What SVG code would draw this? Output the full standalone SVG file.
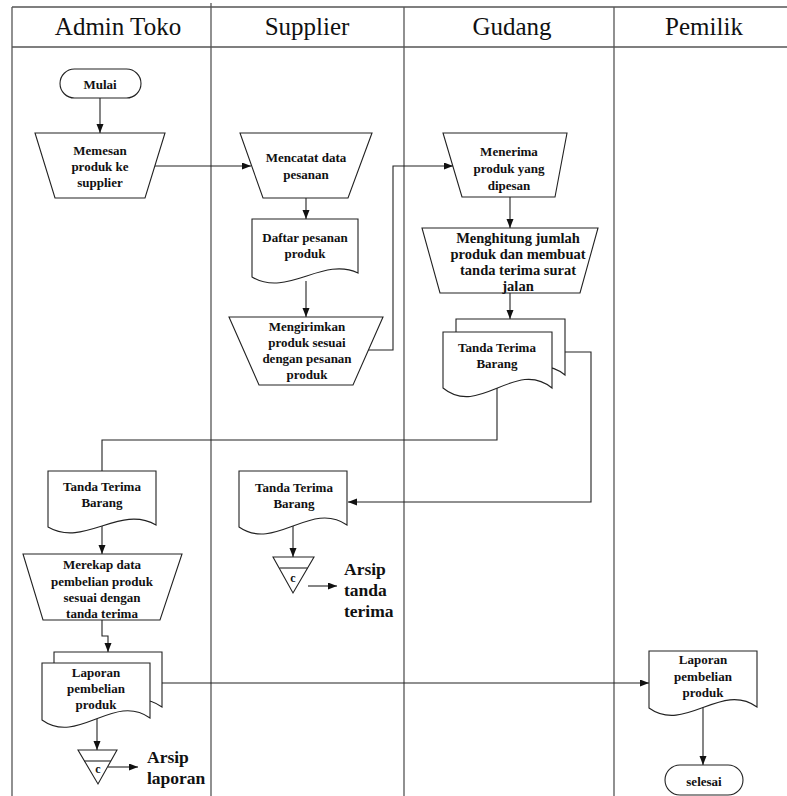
<svg xmlns="http://www.w3.org/2000/svg" width="787" height="796" viewBox="0 0 787 796">
<style>
.frame{stroke:#555;stroke-width:1.3;fill:none}
.shape{fill:#fff;stroke:#222;stroke-width:1.1}
.conn{fill:none;stroke:#222;stroke-width:1.1}
.hdr{font-family:"Liberation Serif",serif;font-size:25px;fill:#111;text-anchor:middle}
.t{font-family:"Liberation Serif",serif;font-size:13px;font-weight:bold;fill:#111;text-anchor:middle}
.tb{font-family:"Liberation Serif",serif;font-size:14.5px;font-weight:bold;fill:#111;text-anchor:middle}
.ar{font-family:"Liberation Serif",serif;font-size:17.5px;font-weight:bold;fill:#111}
</style>
<defs>
<marker id="ah" markerUnits="userSpaceOnUse" markerWidth="10" markerHeight="8" refX="9" refY="3.5" orient="auto">
<path d="M0,0 L9,3.5 L0,7 z" fill="#111"/>
</marker>
</defs>
<g id="lanes">
<line class="frame" x1="12" y1="7" x2="787" y2="7"/>
<line class="frame" x1="12" y1="47" x2="787" y2="47"/>
<line class="frame" x1="12" y1="7" x2="12" y2="796"/>
<line class="frame" x1="211" y1="3" x2="211" y2="796"/>
<line class="frame" x1="404" y1="7" x2="404" y2="796"/>
<line class="frame" x1="614" y1="7" x2="614" y2="796"/>
<text class="hdr" x="118" y="35">Admin Toko</text>
<text class="hdr" x="307" y="35">Supplier</text>
<text class="hdr" x="512" y="35">Gudang</text>
<text class="hdr" x="704" y="35">Pemilik</text>
</g>
<g id="connectors">
<path class="conn" d="M100,98 V133" marker-end="url(#ah)"/>
<path class="conn" d="M155,166 H251" marker-end="url(#ah)"/>
<path class="conn" d="M306,198 V219" marker-end="url(#ah)"/>
<path class="conn" d="M306,281 V317" marker-end="url(#ah)"/>
<path class="conn" d="M368,350 H393 V166 H453" marker-end="url(#ah)"/>
<path class="conn" d="M510,197 V228" marker-end="url(#ah)"/>
<path class="conn" d="M510,293 V319" marker-end="url(#ah)"/>
<path class="conn" d="M565,352 H591 V502 H348" marker-end="url(#ah)"/>
<path class="conn" d="M497,388 V440 H102 V471"/>
<path class="conn" d="M293,526 V557" marker-end="url(#ah)"/>
<path class="conn" d="M308,586 H337" marker-end="url(#ah)"/>
<path class="conn" d="M102,526 V554" marker-end="url(#ah)"/>
<path class="conn" d="M102,620 V636 H108 V652" marker-end="url(#ah)"/>
<path class="conn" d="M162,683 H649" marker-end="url(#ah)"/>
<path class="conn" d="M97,719 V750" marker-end="url(#ah)"/>
<path class="conn" d="M108,767 H138" marker-end="url(#ah)"/>
<path class="conn" d="M703,707 V765" marker-end="url(#ah)"/>
</g>
<g id="mulai">
<rect class="shape" x="60" y="69" width="81" height="29" rx="14.5"/>
<text class="t" x="100" y="89">Mulai</text>
</g>
<g id="memesan">
<polygon class="shape" points="35,133 165,133 145,198 55,198"/>
<text class="t" x="100" y="155">Memesan</text>
<text class="t" x="100" y="171">produk ke</text>
<text class="t" x="100" y="187">supplier</text>
</g>
<g id="mencatat">
<polygon class="shape" points="240,133 372,133 348,198 263,198"/>
<text class="t" x="306" y="162">Mencatat data</text>
<text class="t" x="306" y="179">pesanan</text>
</g>
<g id="daftar">
<path class="shape" d="M252,219 H358 V273 C322.7,256 287.3,298 252,277 Z"/>
<text class="t" x="305" y="242">Daftar pesanan</text>
<text class="t" x="305" y="258">produk</text>
</g>
<g id="mengirimkan">
<polygon class="shape" points="229,317 383,317 353,385 259,385"/>
<text class="t" x="307" y="331">Mengirimkan</text>
<text class="t" x="307" y="347">produk sesuai</text>
<text class="t" x="307" y="363">dengan pesanan</text>
<text class="t" x="307" y="379">produk</text>
</g>
<g id="menerima">
<polygon class="shape" points="443,133 567,133 555,197 462,197"/>
<text class="t" x="509" y="156">Menerima</text>
<text class="t" x="509" y="173">produk yang</text>
<text class="t" x="509" y="190">dipesan</text>
</g>
<g id="menghitung">
<polygon class="shape" points="422,228 598,228 580,293 440,293"/>
<text class="tb" x="518" y="243">Menghitung jumlah</text>
<text class="tb" x="518" y="259">produk dan membuat</text>
<text class="tb" x="518" y="275">tanda terima surat</text>
<text class="tb" x="518" y="291">jalan</text>
</g>
<g id="ttb-gudang">
<path class="shape" d="M456,319 H565 V375 C528.7,345 492.3,405 456,375 Z"/>
<path class="shape" d="M443,332 H552 V388 C515.7,358 479.3,418 443,388 Z"/>
<text class="t" x="497" y="352">Tanda Terima</text>
<text class="t" x="497" y="368">Barang</text>
</g>
<g id="ttb-admin">
<path class="shape" d="M48,471 H156 V525 C120,504 84,548 48,527 Z"/>
<text class="t" x="102" y="491">Tanda Terima</text>
<text class="t" x="102" y="507">Barang</text>
</g>
<g id="ttb-supplier">
<path class="shape" d="M239,471 H347 V525 C311,500 275,552 239,527 Z"/>
<text class="t" x="294" y="492">Tanda Terima</text>
<text class="t" x="294" y="508">Barang</text>
</g>
<g id="arsip-tanda">
<polygon class="shape" points="273,557 314,557 293,593"/>
<line class="conn" x1="279.5" y1="568" x2="307.5" y2="568"/>
<text class="t" x="293" y="582" style="font-size:12px">c</text>
<text class="ar" x="344" y="575">Arsip</text>
<text class="ar" x="344" y="596">tanda</text>
<text class="ar" x="344" y="617">terima</text>
</g>
<g id="merekap">
<polygon class="shape" points="23,554 182,554 160,620 43,620"/>
<text class="t" x="102" y="569">Merekap data</text>
<text class="t" x="102" y="585.5">pembelian produk</text>
<text class="t" x="102" y="602">sesuai dengan</text>
<text class="t" x="102" y="618">tanda terima</text>
</g>
<g id="laporan-admin">
<path class="shape" d="M54,652 H162 V707 C126,681 90,735 54,709 Z"/>
<path class="shape" d="M42,663 H150 V718 C114,692 78,746 42,720 Z"/>
<text class="t" x="96" y="677">Laporan</text>
<text class="t" x="96" y="693">pembelian</text>
<text class="t" x="96" y="709">produk</text>
</g>
<g id="arsip-laporan">
<polygon class="shape" points="78,750 117,750 98,784"/>
<line class="conn" x1="84.2" y1="761" x2="110.8" y2="761"/>
<text class="t" x="98" y="773" style="font-size:12px">c</text>
<text class="ar" x="147" y="763">Arsip</text>
<text class="ar" x="147" y="784">laporan</text>
</g>
<g id="laporan-pemilik">
<path class="shape" d="M649,651 H757 V707 C721,681 685,734 649,708 Z"/>
<text class="t" x="703" y="664">Laporan</text>
<text class="t" x="703" y="681">pembelian</text>
<text class="t" x="703" y="697">produk</text>
</g>
<g id="selesai">
<rect class="shape" x="665" y="765" width="78" height="30" rx="15"/>
<text class="t" x="704" y="786">selesai</text>
</g>
</svg>
